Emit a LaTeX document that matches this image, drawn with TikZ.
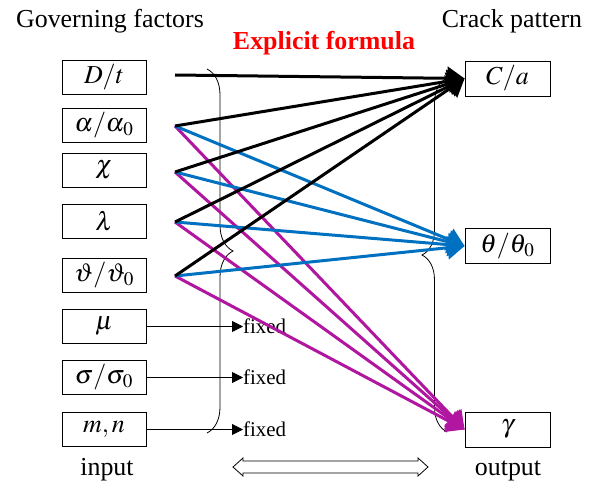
\documentclass[tikz,border=0pt]{standalone}
\usepackage{mathptmx}
\usepackage{fontspec}
\setmainfont{Liberation Serif}
\usetikzlibrary{arrows.meta,decorations.pathreplacing}
\definecolor{cblue}{HTML}{0070C0}
\definecolor{cmag}{HTML}{B0169F}
\definecolor{cred}{HTML}{FF0000}
\tikzset{
  % ---- factor / pattern boxes ------------------------------------
  fac/.style     = {draw, line width=.9pt, minimum width=84bp,
                    minimum height=34bp, inner sep=0pt,
                    font=\fontsize{26}{26}\selectfont},
  pat/.style     = {fac, minimum width=85bp, minimum height=35bp},
  % ---- texts -----------------------------------------------------
  head/.style    = {font=\fontsize{26}{26}\selectfont, anchor=base,
                    inner sep=0pt},
  fixtxt/.style  = {font=\fontsize{21}{21}\selectfont, anchor=west,
                    inner sep=0pt},
  % ---- connectors ------------------------------------------------
  ew/.style      = {line width=3bp, -{Triangle[length=17bp,width=23bp]}},
  eblk/.style    = {ew, draw=black},
  eblu/.style    = {ew, draw=cblue},
  emag/.style    = {ew, draw=cmag},
  fixarr/.style  = {line width=.8bp, -{Triangle[length=11bp,width=11bp]}},
  brc/.style     = {line width=.8bp, decorate,
                    decoration={brace, amplitude=#1}},
}

\begin{document}
\begin{tikzpicture}[x=1bp, y=-1bp]
  \useasboundingbox (0,0) rectangle (590,483);
  % headings
  \node[head] (hgov) at (110,28) {Governing factors};
  \node[head] (hcrk) at (512,28) {Crack pattern};
  \node[head, font=\fontsize{26}{26}\selectfont\bfseries, text=cred] (hexp) at (324,50) {Explicit formula};
  \node[head] (hin) at (107,475) {input};
  \node[head] (hout) at (508,475) {output};
  % governing factors
  \node[fac] (Dt) at (104,77) {$D/t$};
  \node[fac] (Al) at (104,125.5) {$\alpha/\alpha_{\mkern1mu 0}$};
  \node[fac] (Ch) at (104,170) {$\chi$};
  \node[fac] (La) at (104,221) {$\lambda$};
  \node[fac] (Vt) at (104,275.5) {$\vartheta/\vartheta_{\mkern1mu 0}$};
  \node[fac] (Mu) at (104,326.5) {$\mu$};
  \node[fac] (Sg) at (104,377.5) {$\sigma/\sigma_{\mkern1mu 0}$};
  \node[fac] (Mn) at (104,429.5) {$m,n$};
  % crack pattern
  \node[pat] (Ca) at (507.5,78.5) {$C/a$};
  \node[pat] (Th) at (507.5,246) {$\theta/\theta_{\mkern1mu 0}$};
  \node[pat] (Ga) at (507.5,429.5) {$\gamma$};
  % start points of the formula lines
  \coordinate (sDt) at (175,75);
  \coordinate (sAl) at (175,126);
  \coordinate (sCh) at (175,172);
  \coordinate (sLa) at (175,222);
  \coordinate (sVt) at (175,276);
  % fixed ones
  \node[fixtxt] (fx1) at (243,326.5) {fixed};
  \node[fixtxt] (fx2) at (243,377.5) {fixed};
  \node[fixtxt] (fx3) at (243,429.5) {fixed};
  \draw[fixarr] (Mu) -- (fx1);
  \draw[fixarr] (Sg) -- (fx2);
  \draw[fixarr] (Mn) -- (fx3);
  % braces
  \draw[brc=26bp] (207,69) -- (207,433);
  \draw[brc=25bp] (447,432) -- (447,78);
  % formula lines
  \draw[emag] (sAl) -- (Ga.west);
  \draw[emag] (sCh) -- (Ga.west);
  \draw[emag] (sLa) -- (Ga.west);
  \draw[emag] (sVt) -- (Ga.west);
  \draw[eblu] (sAl) -- (Th.west);
  \draw[eblu] (sCh) -- (Th.west);
  \draw[eblu] (sLa) -- (Th.west);
  \draw[eblu] (sVt) -- (Th.west);
  \draw[eblk] (sDt) -- (Ca.west);
  \draw[eblk] (sAl) -- (Ca.west);
  \draw[eblk] (sCh) -- (Ca.west);
  \draw[eblk] (sLa) -- (Ca.west);
  \draw[eblk] (sVt) -- (Ca.west);
  % input <=> output
  \draw[line width=.8bp] (233,467) -- (243,458) -- (243,461) -- (418,461)
    -- (418,458) -- (428,467) -- (418,476) -- (418,473) -- (243,473)
    -- (243,476) -- cycle;
\end{tikzpicture}
\end{document}
